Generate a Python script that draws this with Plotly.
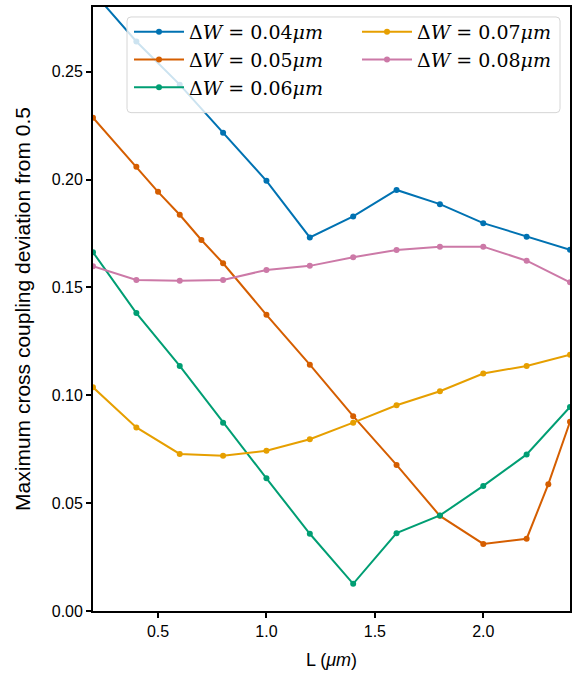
import plotly.graph_objects as go

# Data
L_main = [0.2, 0.4, 0.6, 0.8, 1.0, 1.2, 1.4, 1.6, 1.8, 2.0, 2.2, 2.4]
L_005 = [0.2, 0.4, 0.5, 0.6, 0.7, 0.8, 1.0, 1.2, 1.4, 1.6, 1.8, 2.0, 2.2, 2.3, 2.4]

dev_004 = [0.287, 0.264, 0.244, 0.2217, 0.1994, 0.1732, 0.1829, 0.1952, 0.1886, 0.1798, 0.1735, 0.1675]
dev_005 = [0.2287, 0.206, 0.1943, 0.1837, 0.172, 0.1612, 0.1373, 0.1142, 0.0903, 0.0677, 0.0441, 0.0311, 0.0335, 0.0588, 0.0877]
dev_006 = [0.1663, 0.1381, 0.1136, 0.0873, 0.0615, 0.0358, 0.0126, 0.0361, 0.0443, 0.058, 0.0726, 0.0946]
dev_007 = [0.1037, 0.0851, 0.0728, 0.072, 0.0743, 0.0796, 0.0873, 0.0954, 0.1019, 0.1101, 0.1136, 0.1188]
dev_008 = [0.1598, 0.1535, 0.1531, 0.1535, 0.1581, 0.16, 0.164, 0.1674, 0.1689, 0.1689, 0.1624, 0.1524]

labels = ["0.04", "0.05", "0.06", "0.07", "0.08"]
colors = ["#0072B2", "#D55E00", "#009E73", "#E69F00", "#CC79A7"]
xs = [L_main, L_005, L_main, L_main, L_main]
ys = [dev_004, dev_005, dev_006, dev_007, dev_008]
legend_col = ["legend", "legend", "legend", "legend2", "legend2"]

x_ticks = [0.5, 1.0, 1.5, 2.0]
y_ticks = [0.0, 0.05, 0.10, 0.15, 0.20, 0.25]

fig = go.Figure()
for lab, col, x, y, lg in zip(labels, colors, xs, ys, legend_col):
    fig.add_trace(go.Scatter(
        x=x, y=y, mode="lines+markers",
        name="Δ<i>W</i> = " + lab + "<i>μm</i>",
        line=dict(color=col, width=2),
        marker=dict(color=col, size=6),
        legend=lg,
    ))

# plot area in px: left 93, right 570, top 5, bottom 611
PW, PH = 477.0, 606.0
bx0, bx1, by0, by1 = 127, 560, 15, 111
def px(x):
    return (x - 93) / PW
def py(y):
    return (611 - y) / PH
r = 4
X0, X1, Y0, Y1 = px(bx0), px(bx1), py(by1), py(by0)
rx, ry = r / PW, r / PH
path = (f"M {X0+rx},{Y0} L {X1-rx},{Y0} Q {X1},{Y0} {X1},{Y0+ry} "
        f"L {X1},{Y1-ry} Q {X1},{Y1} {X1-rx},{Y1} L {X0+rx},{Y1} "
        f"Q {X0},{Y1} {X0},{Y1-ry} L {X0},{Y0+ry} Q {X0},{Y0} {X0+rx},{Y0} Z")

fig.add_shape(type="path", path=path, xref="paper", yref="paper",
              fillcolor="rgba(255,255,255,0.8)", line=dict(color="#d6d6d6", width=1),
              layer="above")

tick_font = dict(family="Liberation Sans, Arial, sans-serif", size=16, color="black")
leg_font = dict(family="DejaVu Serif, serif", size=19, color="black")

fig.update_layout(
    width=579, height=678,
    margin=dict(l=93, r=9, t=5, b=67),
    paper_bgcolor="white", plot_bgcolor="white",
    showlegend=True,
    legend=dict(
        x=px(129), y=py(11), xanchor="left", yanchor="top",
        bgcolor="rgba(0,0,0,0)", borderwidth=0,
        font=leg_font, itemwidth=50, tracegroupgap=0,
    ),
    legend2=dict(
        x=px(357), y=py(11), xanchor="left", yanchor="top",
        bgcolor="rgba(0,0,0,0)", borderwidth=0,
        font=leg_font, itemwidth=50, tracegroupgap=0,
    ),
    xaxis=dict(
        range=[0.2, 2.4], tickvals=x_ticks, tickformat=".1f",
        showgrid=False, zeroline=False,
        showline=True, mirror=True, linecolor="black", linewidth=1.8,
        ticks="outside", ticklen=5, tickwidth=1.5, tickcolor="black",
        tickfont=tick_font,
        title=dict(text="L (<i>μm</i>)", font=dict(family="Liberation Sans, Arial, sans-serif", size=18, color="black"), standoff=14),
    ),
    yaxis=dict(
        range=[0, 0.28], tickvals=y_ticks, tickformat=".2f",
        showgrid=False, zeroline=False,
        showline=True, mirror=True, linecolor="black", linewidth=1.8,
        ticks="outside", ticklen=5, tickwidth=1.5, tickcolor="black",
        tickfont=tick_font,
        title=dict(text="Maximum cross coupling deviation from 0.5", font=dict(family="Liberation Sans, Arial, sans-serif", size=21, color="black"), standoff=15),
    ),
)

fig.write_html("out.html")
